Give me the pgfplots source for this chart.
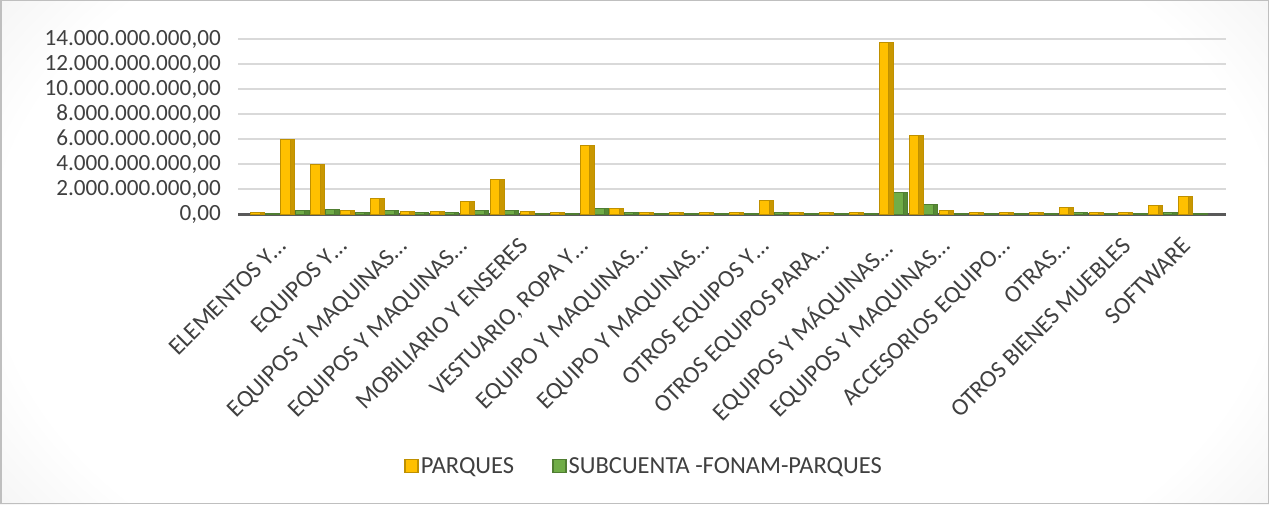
\documentclass[border=0pt]{standalone}
\usepackage{pgfplots}
\usepackage{pgfplotstable}
\pgfplotsset{compat=1.18}
\usepackage{fontspec}
\setmainfont{Carlito}
\definecolor{gold}{HTML}{FFC000}
\definecolor{goldD}{HTML}{C99700}
\definecolor{golde}{HTML}{BF9000}
\definecolor{grn}{HTML}{70AD47}
\definecolor{grnD}{HTML}{568A35}
\definecolor{grne}{HTML}{507E32}
\definecolor{txt}{HTML}{404040}
\definecolor{gridc}{HTML}{D9D9D9}
\definecolor{axc}{HTML}{595959}
\pgfdeclareradialshading{bgshade}{\pgfpoint{0bp}{0bp}}{color(0bp)=(white); color(20bp)=(white); color(50bp)=(black!32)}
\pgfplotstableread{
x parques fonam
0 150000000 50000000
1 6000000000 300000000
2 4000000000 350000000
3 250000000 100000000
4 1250000000 300000000
5 200000000 100000000
6 200000000 100000000
7 1000000000 250000000
8 2800000000 300000000
9 200000000 50000000
10 150000000 50000000
11 5450000000 450000000
12 450000000 100000000
13 100000000 50000000
14 100000000 50000000
15 100000000 50000000
16 100000000 50000000
17 1100000000 150000000
18 100000000 50000000
19 100000000 50000000
20 100000000 50000000
21 13700000000 1750000000
22 6300000000 750000000
23 300000000 50000000
24 100000000 50000000
25 100000000 50000000
26 150000000 50000000
27 550000000 100000000
28 100000000 50000000
29 150000000 50000000
30 700000000 100000000
31 1400000000 50000000
}\data
\begin{document}
\begin{tikzpicture}
\useasboundingbox (0pt,0pt) rectangle (1269pt,504pt);
\begin{scope}
\clip (0pt,0pt) rectangle (1269pt,504pt);
\shade[shading=bgshade] (634.5pt,252pt) ellipse (800pt and 500pt);
\end{scope}
\draw[black!25, line width=1.5pt] (0.75pt,0.75pt) rectangle (1268.25pt,503.25pt);
\begin{axis}[
  at={(238pt,290pt)}, anchor=south west,
  scale only axis, width=988pt, height=175pt,
  ybar, bar width=14pt,
  xmin=-0.9, xmax=32.1,
  ymin=0, ymax=14000000000,
  scaled y ticks=false,
  ytick={0,2000000000,4000000000,6000000000,8000000000,10000000000,12000000000,14000000000},
  yticklabels={{0,00},{2.000.000.000,00},{4.000.000.000,00},{6.000.000.000,00},{8.000.000.000,00},{10.000.000.000,00},{12.000.000.000,00},{14.000.000.000,00}},
  xtick={0.27,2.28,4.30,6.31,8.33,10.34,12.35,14.37,16.38,18.40,20.41,22.42,24.44,26.45,28.47,30.48},
  xticklabels={{ELEMENTOS Y…},{EQUIPOS Y…},{EQUIPOS Y MAQUINAS…},{EQUIPOS Y MAQUINAS…},{MOBILIARIO Y ENSERES},{VESTUARIO, ROPA Y…},{EQUIPO Y MAQUINAS…},{EQUIPO Y MAQUINAS…},{OTROS EQUIPOS Y…},{OTROS EQUIPOS PARA…},{EQUIPOS Y MÁQUINAS…},{EQUIPOS Y MAQUINAS…},{ACCESORIOS EQUIPO…},{OTRAS…},{OTROS BIENES MUEBLES},{SOFTWARE}},
  x tick label style={rotate=45, anchor=north east, inner sep=0pt, yshift=-18pt, xshift=-13pt, font=\fontsize{24.3}{27}\selectfont, text=txt},
  y tick label style={anchor=east, inner sep=0pt, xshift=-17pt, font=\fontsize{23.2}{26}\selectfont, text=txt},
  major tick length=0pt,
  ymajorgrids, major grid style={gridc, line width=2pt},
  axis x line*=bottom, axis y line*=left,
  x axis line style={axc, line width=3pt},
  y axis line style={draw=none},
  legend style={at={(0.411,-1.44)}, anchor=center, draw=none, fill=none,
    legend columns=2, font=\fontsize{24.5}{28}\selectfont, text=txt,
    nodes={inner xsep=2pt},
    /tikz/every even column/.append style={column sep=36pt}},
  legend image code/.code={\draw[#1, line width=1.5pt] (0pt,-6.5pt) rectangle (13pt,6.5pt);},
]
\addplot[fill=gold, draw=golde, line width=1pt, bar shift=-7.25pt, bar width=14pt] table[x=x, y=parques] {\data};
\addplot[fill=grn, draw=grne, line width=1pt, bar shift=7.25pt, bar width=14pt] table[x=x, y=fonam] {\data};
\addplot[fill=goldD, draw=golde, line width=1pt, bar shift=-2.5pt, bar width=4.5pt, forget plot] table[x=x, y=parques] {\data};
\addplot[fill=grnD, draw=grne, line width=1pt, bar shift=12pt, bar width=4.5pt, forget plot] table[x=x, y=fonam] {\data};
\legend{PARQUES, SUBCUENTA -FONAM-PARQUES}
\end{axis}
\end{tikzpicture}
\end{document}
